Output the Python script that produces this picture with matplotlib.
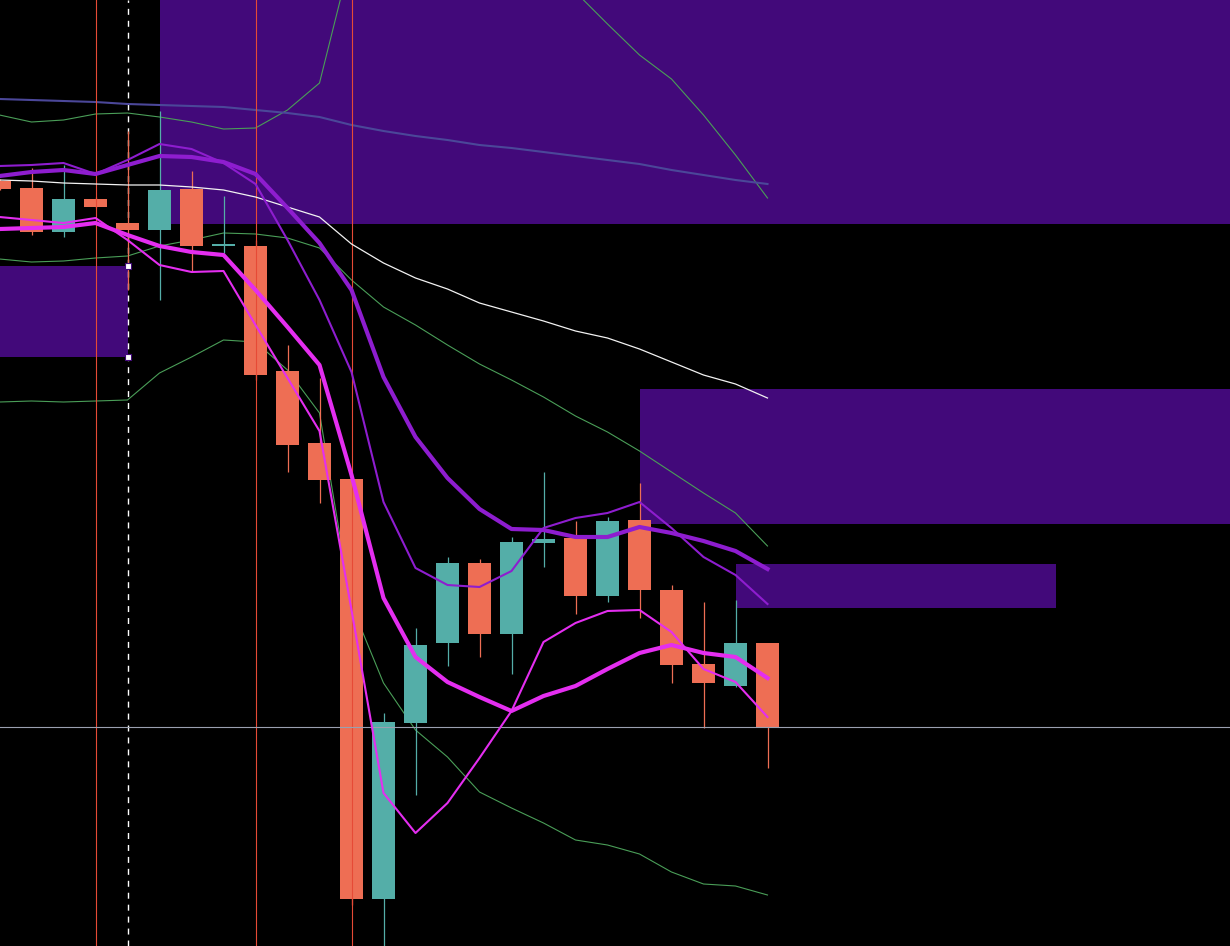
import numpy as np
import matplotlib
matplotlib.use("Agg")
import matplotlib.pyplot as plt
from matplotlib.patches import Rectangle

# ---- candle data (price units) ----
opens  = [819, 812, 768, 801, 777, 770, 811, 754, 754, 629, 557, 521, 101, 277, 357, 437, 366, 457, 462, 404, 480, 410, 336, 314, 357]
highs  = [821, 832, 835, 803, 869, 889, 829, 804, 760, 655, 622, 525, 287, 372, 443, 441, 463, 528, 479, 483, 517, 415, 398, 400, 357]
lows   = [810, 765, 763, 792, 710, 700, 728, 747, 620, 528, 497, 95, 20, 205, 334, 343, 326, 433, 386, 398, 382, 317, 272, 313, 232]
closes = [811, 768, 801, 793, 770, 810, 754, 756, 625, 555, 520, 101, 278, 355, 437, 366, 458, 461, 404, 479, 410, 335, 317, 357, 273]

# ---- indicator lines ----
basis_line  = [820, 819, 817, 816, 815, 815, 813, 810, 803, 793, 783, 756, 737, 722, 711, 697, 688, 679, 669, 662, 651, 638, 625, 616, 602]
long_ma     = [901, 900, 899, 898, 896, 895, 894, 893, 890, 887, 883, 875, 869, 864, 860, 855, 852, 848, 844, 840, 836, 830, 825, 820, 816]
bb_upper    = [885, 878, 880, 886, 887, 883, 878, 871, 872, 890, 917, 1045, 1070, 1080, 1068, 1062, 1048, 1030, 1008, 976, 945, 921, 885, 845, 802]
bb_middle   = [741, 738, 739, 742, 744, 754, 760, 767, 766, 762, 752, 720, 693, 675, 655, 636, 620, 603, 584, 568, 549, 528, 507, 487, 454]
bb_lower    = [598, 599, 598, 599, 600, 627, 643, 660, 658, 630, 587, 395, 317, 270, 243, 208, 192, 177, 160, 155, 146, 128, 116, 114, 105]
purple_slow = [824, 828, 830, 826, 835, 844, 843, 838, 826, 792, 757, 710, 623, 563, 522, 491, 471, 470, 463, 463, 473, 467, 459, 449, 431]
purple_fast = [834, 835, 837, 826, 840, 856, 851, 837, 816, 760, 700, 628, 498, 432, 415, 413, 429, 472, 482, 487, 498, 472, 443, 425, 396]
magenta_slow = [771, 772, 773, 777, 765, 754, 748, 745, 710, 673, 635, 525, 402, 343, 318, 303, 289, 304, 314, 331, 347, 355, 347, 343, 322]
magenta_fast = [783, 780, 777, 782, 760, 735, 728, 729, 675, 622, 569, 390, 207, 167, 197, 242, 289, 358, 377, 389, 390, 368, 331, 318, 283]

# ---- zones: (x_start, x_end, top, bottom) ----
zones = [(5, 45, 1100, 776), (-5, 4, 734, 643), (20, 45, 611, 476), (23, 33, 436, 392)]
event_bars = [3, 8, 11]
marker_bar = 4

UP = '#54aea8'
DOWN = '#ee6e54'
ZONE = '#42097a'

fig = plt.figure(figsize=(12.3, 9.46), dpi=100, facecolor='black')
ax = fig.add_axes([0, 0, 1, 1])
ax.set_facecolor('black')
x = np.arange(len(opens))

for (x0, x1, top, bot) in zones:
    ax.add_patch(Rectangle((x0, bot), x1 - x0, top - bot, facecolor=ZONE, edgecolor='none', zorder=0))

ax.plot(x, bb_upper, color='#4a9e58', lw=0.8, zorder=2)
ax.plot(x, bb_middle, color='#4a9e58', lw=0.8, zorder=2)
ax.plot(x, bb_lower, color='#4a9e58', lw=0.8, zorder=2)
ax.plot(x, long_ma, color='#4b4799', lw=1.5, zorder=2)

# dashed marker line
ax.axvline(marker_bar, color='white', lw=1.0, dashes=(4.3, 4.3), zorder=1)

# candles
for i in x:
    o, h, l, c = opens[i], highs[i], lows[i], closes[i]
    col = UP if c >= o else DOWN
    ax.vlines(i, l, h, color=col, lw=0.9, zorder=3)
    ax.bar(i, abs(c - o), bottom=min(o, c), width=0.72, color=col, edgecolor='none', zorder=3)

for b in event_bars:
    ax.axvline(b, color='#e64a36', lw=0.8, zorder=4)

ax.axhline(closes[-1], color='#9aa0b0', lw=0.8, zorder=4)

ax.plot(x, basis_line, color='#f2f2f2', lw=0.9, zorder=5)
ax.plot(x, purple_fast, color='#8e1dcf', lw=1.5, zorder=5)
ax.plot(x, purple_slow, color='#8e1dcf', lw=3.0, zorder=5)
ax.plot(x, magenta_fast, color='#e42ef0', lw=1.5, zorder=5)
ax.plot(x, magenta_slow, color='#e42ef0', lw=3.0, zorder=5)

# zone handles
z = zones[1]
ax.plot([z[1], z[1]], [z[2], z[3]], ls='none', marker='s', ms=4,
        markerfacecolor='white', markeredgecolor=ZONE, markeredgewidth=0.8, zorder=6)

ax.set_xlim(0.5 / 32, 1230.5 / 32)
ax.set_ylim(54, 1000)
ax.set_axis_off()
fig.savefig('out.png', dpi=100, facecolor='black')
